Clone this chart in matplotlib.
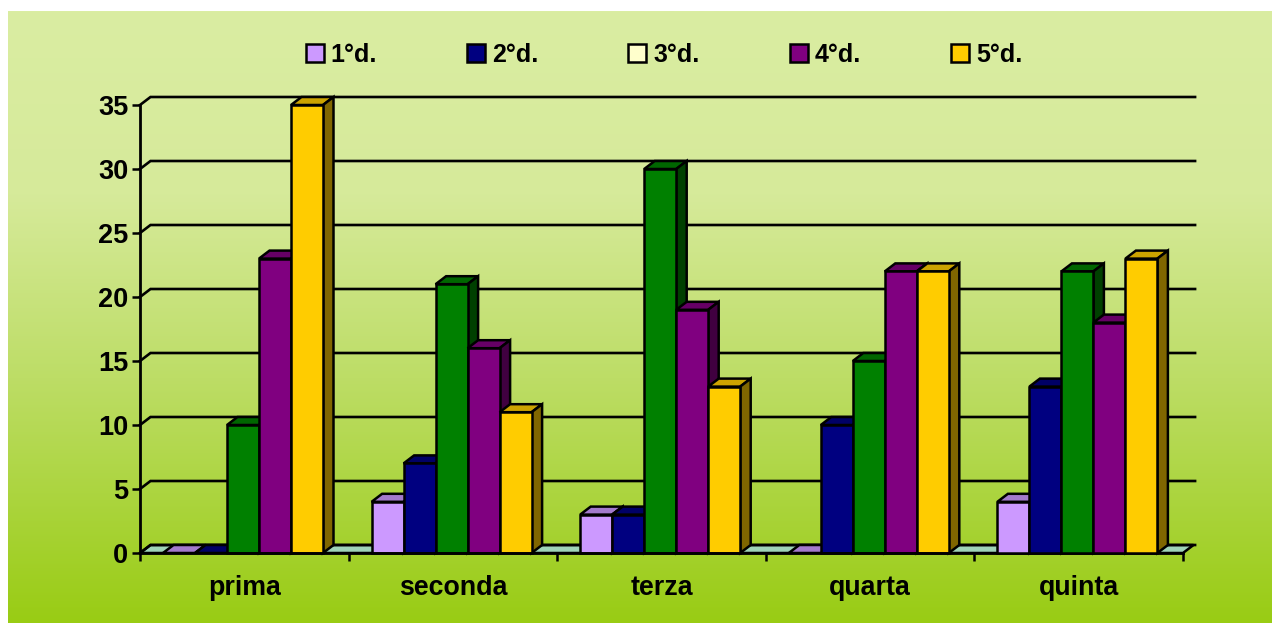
import numpy as np
import matplotlib
matplotlib.use('Agg')
import matplotlib.pyplot as plt
from matplotlib.colors import LinearSegmentedColormap, to_rgb
from matplotlib.patches import Patch, Polygon

# === DATA ===
categories = ['prima', 'seconda', 'terza', 'quarta', 'quinta']
series_names = ['1°d.', '2°d.', '3°d.', '4°d.', '5°d.']
d1 = [0, 4, 3, 0, 4]
d2 = [0, 7, 3, 10, 13]
d3 = [10, 21, 30, 15, 22]
d4 = [23, 16, 19, 22, 18]
d5 = [35, 11, 13, 22, 23]
series = [d1, d2, d3, d4, d5]
y_ticks = [0, 5, 10, 15, 20, 25, 30, 35]

bar_colors = ['#CC99FF', '#000080', '#008000', '#800080', '#FFCC00']
legend_colors = ['#CC99FF', '#000080', '#FFFFCC', '#800080', '#FFCC00']

W, H = 1272, 623
plt.rcParams['font.family'] = ['Liberation Sans', 'DejaVu Sans']
plt.rcParams['font.weight'] = 'bold'

fig = plt.figure(figsize=(W / 100, H / 100), dpi=100, facecolor='white')

# background gradient
bg = fig.add_axes([8 / W, 0, 1 - 8 / W, 1 - 11 / H])
cmap = LinearSegmentedColormap.from_list('bg', [(0, '#DAEDA2'), (0.3, '#D6EA9A'), (0.6, '#BDDD66'), (1, '#99CC14')])
bg.imshow(np.linspace(0, 1, 256).reshape(-1, 1), aspect='auto', cmap=cmap)
bg.axis('off')

# axes = front plane of the 3d box
ax = fig.add_axes([140 / W, 1 - 553 / H, (1183 - 140) / W, (553 - 105) / H])
ax.patch.set_alpha(0)
ax.set_xlim(0, 5)
ax.set_ylim(0, 35)
for s in ['top', 'right']:
    ax.spines[s].set_visible(False)
for s in ['left', 'bottom']:
    ax.spines[s].set_linewidth(2.0)
    ax.spines[s].set_zorder(50)

px = 5 / (1183 - 140)
py = 35 / (553 - 105)
dx, dy = 10.5 * px, 8 * py
bar_w = 32 * px
gap = 23 * px
lw = 1.8

# floor and back grid
ax.add_patch(Polygon([(0, 0), (dx, dy), (5 + dx, dy), (5, 0)], closed=True, fc='#9FD4B8', ec='black',
                     lw=lw, clip_on=False, zorder=1))
for v in y_ticks:
    ax.plot([0, dx, 5 + 1.15 * dx], [v, v + dy, v + dy], color='black', lw=1.9, clip_on=False, zorder=2,
            solid_joinstyle='miter')


def shade(c, f):
    return tuple(x * f for x in to_rgb(c))


# bars, left to right so the next front covers the previous side
for i in range(len(categories)):
    for j, vals in enumerate(series):
        v = vals[i]
        x0 = i + gap + j * bar_w
        x1 = x0 + bar_w
        z = 10 + i * 10 + j
        col = bar_colors[j]
        ax.add_patch(Polygon([(x0, v), (x0 + dx, v + dy), (x1 + dx, v + dy), (x1, v)], closed=True,
                             fc=shade(col, 0.8), ec='black', lw=lw, clip_on=False, zorder=z))
        if v > 0:
            ax.add_patch(Polygon([(x1, 0), (x1 + dx, dy), (x1 + dx, v + dy), (x1, v)], closed=True,
                                 fc=shade(col, 0.5), ec='black', lw=lw, clip_on=False, zorder=z))
            ax.bar(x0, v, width=bar_w, align='edge', color=col, edgecolor='black', linewidth=lw,
                   clip_on=False, zorder=z + 0.5)

ax.set_yticks(y_ticks)
ax.set_xticks(range(6))
ax.set_xticklabels([])
ax.set_xticks(np.arange(5) + 0.5, labels=categories, minor=True)
ax.tick_params(axis='x', which='major', length=5.5, width=1.8)
ax.tick_params(axis='x', which='minor', length=0, pad=16, labelsize=19.3)
ax.tick_params(axis='y', length=5.5, width=1.8, labelsize=19.5, pad=3)

handles = [Patch(fc=c, ec='black', lw=1.8) for c in legend_colors]
fig.legend(handles, series_names, loc='center', bbox_to_anchor=(664 / W, 1 - 55 / H), ncol=5, frameon=False,
           fontsize=18, handlelength=0.72, handleheight=0.72, handletextpad=0.28, columnspacing=3.6)

fig.savefig('out.png', dpi=100)
